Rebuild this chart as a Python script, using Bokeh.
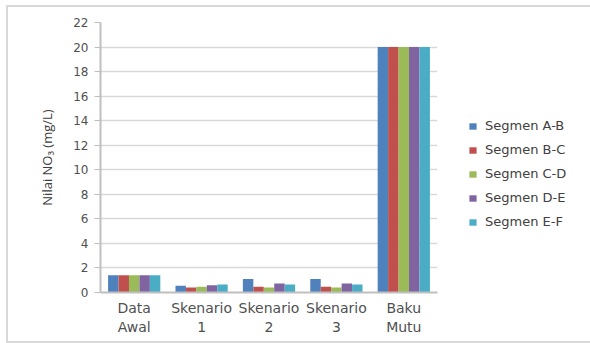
from bokeh.plotting import figure
from bokeh.models import ColumnDataSource, Legend, LegendItem, FactorRange, SingleIntervalTicker
from bokeh.transform import dodge
from bokeh.embed import file_html
from bokeh.resources import INLINE

categories = ["Data\nAwal", "Skenario\n1", "Skenario\n2", "Skenario\n3", "Baku\nMutu"]
series = ["Segmen A-B", "Segmen B-C", "Segmen C-D", "Segmen D-E", "Segmen E-F"]
seg_ab = [1.4, 0.55, 1.1, 1.1, 20]
seg_bc = [1.4, 0.41, 0.46, 0.46, 20]
seg_cd = [1.4, 0.46, 0.4, 0.4, 20]
seg_de = [1.4, 0.6, 0.73, 0.73, 20]
seg_ef = [1.4, 0.65, 0.65, 0.65, 20]
colors = ["#4F81BD", "#C0504D", "#9BBB59", "#8064A2", "#4BACC6"]

src = ColumnDataSource(dict(cat=categories, ab=seg_ab, bc=seg_bc, cd=seg_cd, de=seg_de, ef=seg_ef))
keys = ["ab", "bc", "cd", "de", "ef"]

p = figure(x_range=FactorRange(*categories), y_range=(0, 22),
           frame_width=337, frame_height=270,
           min_border_left=92, min_border_right=150, min_border_top=15, min_border_bottom=49,
           output_backend="svg", toolbar_location=None)
p.margin = (5, 0, 0, 6)
p.styles = {"border-left": "2px solid #d9d9d9", "border-top": "2px solid #d9d9d9",
            "border-bottom": "2px solid #d9d9d9", "border-right": "none",
            "width": "600px", "max-width": "none"}

bw = 0.155
items = []
for i, k in enumerate(keys):
    off = (i - 2) * bw
    r = p.vbar(x=dodge("cat", off, range=p.x_range), top=k, width=bw, source=src,
               fill_color=colors[i], line_color=None)
    items.append(LegendItem(label=series[i], renderers=[r]))

legend = Legend(items=items, location=(31, 63))
legend.border_line_color = None
legend.background_fill_alpha = 0
legend.label_text_font = "DejaVu Sans"
legend.label_text_font_size = "13px"
legend.label_text_color = "#404040"
legend.glyph_width = 9
legend.glyph_height = 8
legend.spacing = 9
legend.label_height = 12
legend.label_standoff = 8
p.add_layout(legend, "right")

p.xgrid.grid_line_color = None
p.ygrid.grid_line_color = "#d9d9d9"
p.ygrid.grid_line_width = 1.5
p.yaxis.ticker = SingleIntervalTicker(interval=2)
p.yaxis.minor_tick_line_color = None
p.yaxis.major_tick_out = 6
p.yaxis.major_tick_in = 0
p.yaxis.major_tick_line_color = "#bfbfbf"
p.yaxis.axis_line_color = "#bfbfbf"
p.yaxis.axis_line_width = 2
p.yaxis.major_label_text_font = "DejaVu Sans"
p.yaxis.major_label_text_font_size = "12px"
p.yaxis.major_label_text_color = "#505050"
p.yaxis.major_label_standoff = 6
p.yaxis.axis_label = "Nilai NO\u2083 (mg/L)"
p.yaxis.axis_label_text_font = "Open Sans"
p.yaxis.axis_label_text_font_style = "normal"
p.yaxis.axis_label_text_font_size = "13px"
p.yaxis.axis_label_text_color = "#404040"
p.yaxis.axis_label_standoff = 14

p.xaxis.major_tick_line_color = None
p.xaxis.axis_line_color = "#bfbfbf"
p.xaxis.axis_line_width = 2
p.xaxis.major_label_text_font = "DejaVu Sans"
p.xaxis.major_label_text_font_size = "14px"
p.xaxis.major_label_text_color = "#505050"
p.xaxis.major_label_standoff = 1
p.x_range.range_padding = 0
p.outline_line_color = None

open("out.html", "w").write(file_html(p, INLINE))
